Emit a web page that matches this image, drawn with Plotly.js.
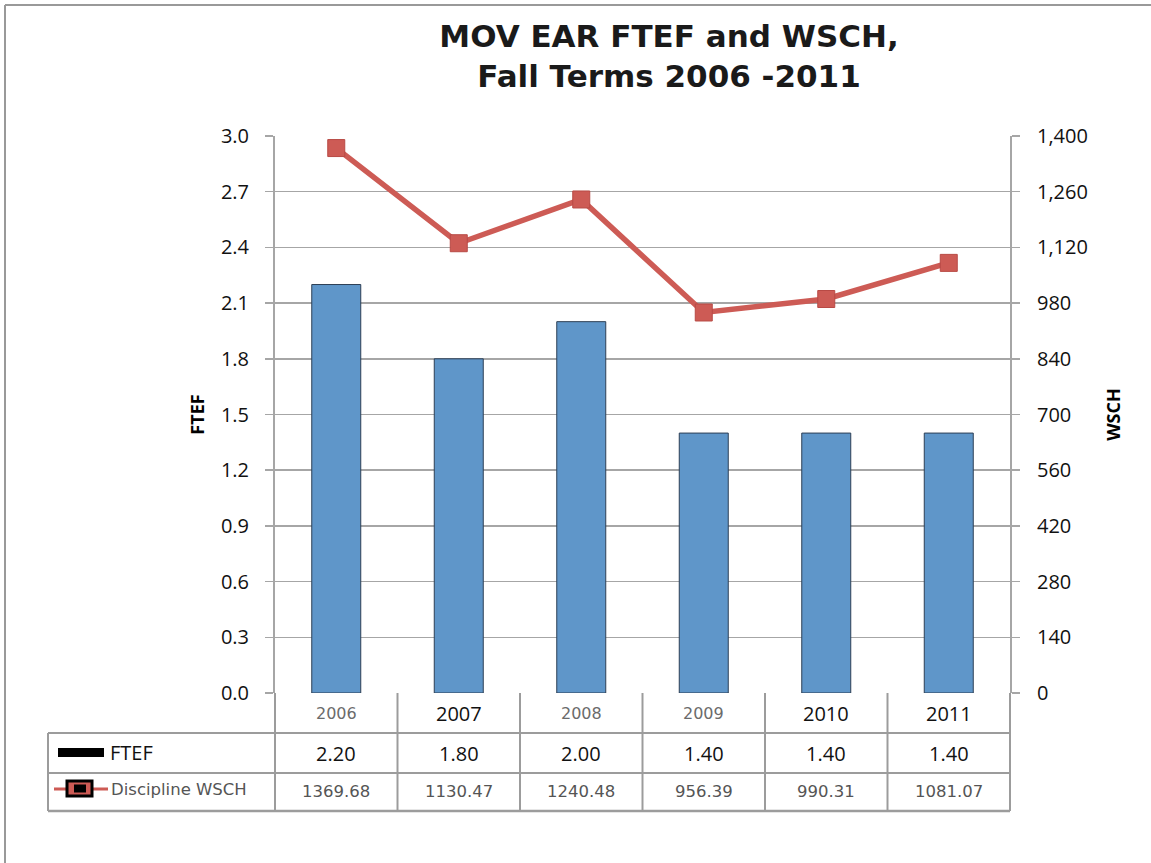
<!DOCTYPE html>
<html>
<head>
<meta charset="utf-8">
<script src="https://cdn.plot.ly/plotly-3.0.1.min.js"></script>
<style>html,body{margin:0;padding:0;background:#fff;}#chart{width:1151px;height:863px;}</style>
</head>
<body>
<div id="chart"></div>
<script>
const years = ['2006', '2007', '2008', '2009', '2010', '2011'];
const ftef = [2.20, 1.80, 2.00, 1.40, 1.40, 1.40];
const wsch = [1369.68, 1130.47, 1240.48, 956.39, 990.31, 1081.07];
const ftefLabels = ['2.20', '1.80', '2.00', '1.40', '1.40', '1.40'];
const wschLabels = ['1369.68', '1130.47', '1240.48', '956.39', '990.31', '1081.07'];
const seriesNames = ['FTEF', 'Discipline WSCH'];

// layout geometry (pixels)
const W = 1151, H = 863;
const L = 275, R = 1010, T = 136, B = 693;
const pw = R - L, ph = B - T;
const px = x => (x - L) / pw;
const py = y => (B - y) / ph;

const FONT = 'Open Sans, Liberation Sans, sans-serif';
const FONT2 = 'DejaVu Sans, Verdana, sans-serif';
const GRID = '#a6a6a6';
const BORDER = '#9c9c9c';

const traces = [
  {
    type: 'bar', x: years, y: ftef, name: seriesNames[0], yaxis: 'y',
    width: 0.4,
    marker: {color: '#5f96c9', line: {color: '#2d3f55', width: 1}},
    hoverinfo: 'x+y'
  },
  {
    type: 'scatter', mode: 'lines+markers', x: years, y: wsch, name: seriesNames[1], yaxis: 'y2',
    line: {color: '#cd5b55', width: 5.5},
    marker: {symbol: 'square', size: 17, color: '#cd5b55', line: {color: '#b84a45', width: 1}}
  }
];

const shapes = [];
const annotations = [];
const ann = (x, y, text, font, xanchor) => annotations.push({
  xref: 'paper', yref: 'paper', x: x, y: y, text: text, showarrow: false,
  xanchor: xanchor || 'center', yanchor: 'middle', font: font
});

// outer frame (left + top edges)
shapes.push({type: 'line', xref: 'paper', yref: 'paper', x0: px(5), x1: px(1160), y0: py(5), y1: py(5), line: {color: '#999', width: 2}});
shapes.push({type: 'line', xref: 'paper', yref: 'paper', x0: px(5), x1: px(5), y0: py(5), y1: py(870), line: {color: '#999', width: 2}});

// data table
const rowY = [693, 733, 773, 811];
const tabLeft = 48;
const n = years.length;
const colX = k => k / n; // paper
const hline = (x0, x1, y, w) => shapes.push({type: 'line', xref: 'paper', yref: 'paper', x0: x0, x1: x1, y0: py(y), y1: py(y), line: {color: BORDER, width: w}});
hline(px(tabLeft), 1, rowY[1], 2);
hline(px(tabLeft), 1, rowY[2], 2);
hline(px(tabLeft), 1, rowY[3], 2.5);
shapes.push({type: 'line', xref: 'paper', yref: 'paper', x0: px(tabLeft), x1: px(tabLeft), y0: py(rowY[1]), y1: py(rowY[3]), line: {color: BORDER, width: 2}});
for (let k = 0; k <= n; k++) {
  shapes.push({type: 'line', xref: 'paper', yref: 'paper', x0: colX(k), x1: colX(k), y0: py(rowY[0]), y1: py(rowY[3]), line: {color: BORDER, width: 2}});
}

// cell texts
const grayYear = [true, false, true, true, false, false];
years.forEach((yr, i) => {
  const cx = (i + 0.5) / n;
  ann(cx, py(713), yr, grayYear[i] ? {family: FONT2, size: 16, color: '#6b6b6b'} : {family: FONT, size: 20, color: '#111'});
  ann(cx, py(753), ftefLabels[i], {family: FONT, size: 20, color: '#111'});
  ann(cx, py(791), wschLabels[i], {family: FONT2, size: 16.5, color: '#555'});
});

// legend keys in table
shapes.push({type: 'rect', xref: 'paper', yref: 'paper', x0: px(58), x1: px(104), y0: py(748), y1: py(757), fillcolor: '#000', line: {width: 0}});
ann(px(108), py(752), seriesNames[0], {family: FONT, size: 20, color: '#111'}, 'left');
shapes.push({type: 'line', xref: 'paper', yref: 'paper', x0: px(54), x1: px(108), y0: py(789), y1: py(789), line: {color: '#cd5b55', width: 3}});
shapes.push({type: 'rect', xref: 'paper', yref: 'paper', x0: px(67), x1: px(92), y0: py(781), y1: py(796), fillcolor: '#cd5b55', line: {color: '#000', width: 3}});
shapes.push({type: 'rect', xref: 'paper', yref: 'paper', x0: px(74), x1: px(86), y0: py(784.5), y1: py(792.5), fillcolor: '#000', line: {width: 0}});
ann(px(109), py(789), seriesNames[1], {family: FONT2, size: 16.5, color: '#555'}, 'left');

const layout = {
  width: W, height: H,
  margin: {l: L, r: W - R, t: T, b: H - B, pad: 0},
  paper_bgcolor: '#fff', plot_bgcolor: '#fff',
  showlegend: false,
  title: {
    text: '<b>MOV EAR FTEF and WSCH,<br>Fall Terms 2006 -2011</b>',
    x: px(669), xref: 'paper', xanchor: 'center',
    y: 1 - 47 / H, yref: 'container', yanchor: 'middle',
    font: {family: FONT2, size: 31, color: '#1a1a1a'}
  },
  xaxis: {
    type: 'category', range: [-0.5, 5.5],
    showticklabels: false, ticks: '', showgrid: false, zeroline: false,
    showline: false
  },
  yaxis: {
    range: [0, 3], dtick: 0.3, tick0: 0, tickformat: '.1f',
    showgrid: true, gridcolor: GRID, gridwidth: 1.5,
    showline: true, linecolor: GRID, linewidth: 2,
    ticks: 'outside', ticklen: 8, tickcolor: GRID, tickwidth: 1.5,
    ticklabelstandoff: 12,
    zeroline: false,
    tickfont: {family: FONT, size: 20, color: '#111'},
    title: {text: '<b>FTEF</b>', font: {family: FONT, size: 18, color: '#000'}, standoff: 12}
  },
  yaxis2: {
    overlaying: 'y', side: 'right',
    range: [0, 1400], dtick: 140, tick0: 0, tickformat: ',d',
    showgrid: false, zeroline: false,
    showline: true, linecolor: GRID, linewidth: 2,
    ticks: 'outside', ticklen: 8, tickcolor: GRID, tickwidth: 1.5,
    ticklabelstandoff: 13,
    tickfont: {family: FONT, size: 20, color: '#111'},
    title: {text: '<b>WSCH</b>', font: {family: FONT, size: 18, color: '#000'}, standoff: 20}
  },
  shapes: shapes,
  annotations: annotations
};

Plotly.newPlot('chart', traces, layout, {displayModeBar: false, staticPlot: true});
</script>
</body>
</html>
